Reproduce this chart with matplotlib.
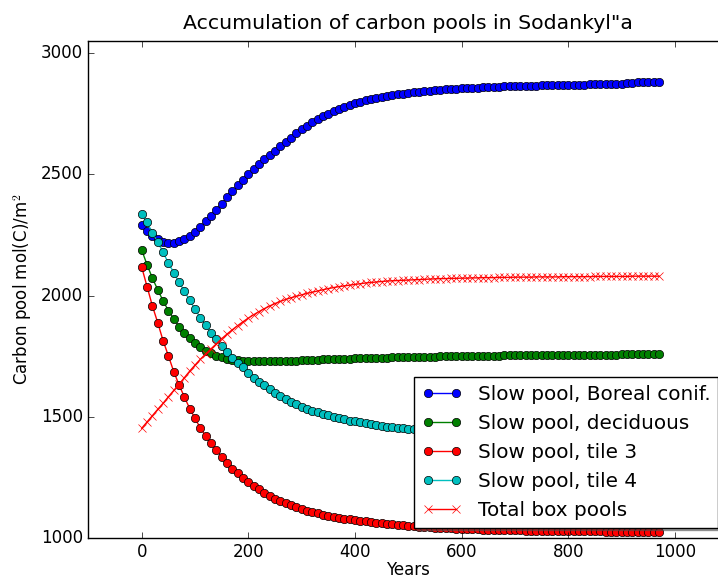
import matplotlib
matplotlib.use('Agg')
import matplotlib.pyplot as plt

plt.style.use('classic')

# years of the simulation, one point every 10 years
years = list(range(0, 980, 10))

slow_boreal = [2292, 2268, 2248, 2233, 2223, 2218, 2218, 2224, 2234, 2248,
               2264, 2284, 2306, 2330, 2355, 2380, 2405, 2430, 2455, 2478,
               2500, 2522, 2543, 2562, 2580, 2598, 2616, 2634, 2652, 2670,
               2686, 2701, 2715, 2728, 2740, 2751, 2761, 2770, 2779, 2787,
               2794, 2800, 2806, 2811, 2816, 2820, 2824, 2828, 2831, 2834,
               2837, 2839, 2841, 2843, 2845, 2847, 2849, 2851, 2853, 2855,
               2856, 2857, 2858, 2859, 2860, 2861, 2862, 2863, 2864, 2864,
               2865, 2866, 2866, 2867, 2867, 2868, 2868, 2869, 2869, 2870,
               2870, 2871, 2871, 2871, 2872, 2872, 2872, 2873, 2873, 2873,
               2874, 2879, 2879, 2880, 2880, 2880, 2881, 2881]

slow_decid = [2188, 2127, 2072, 2024, 1978, 1938, 1904, 1872, 1845, 1824,
              1803, 1787, 1773, 1762, 1752, 1745, 1739, 1735, 1732, 1730,
              1729, 1728, 1728, 1728, 1728, 1729, 1729, 1730, 1730, 1731,
              1732, 1733, 1734, 1735, 1736, 1737, 1738, 1739, 1740, 1740,
              1741, 1742, 1742, 1743, 1743, 1744, 1744, 1745, 1745, 1746,
              1746, 1747, 1747, 1748, 1748, 1748, 1749, 1749, 1750, 1750,
              1750, 1751, 1751, 1751, 1752, 1752, 1752, 1752, 1753, 1753,
              1753, 1753, 1754, 1754, 1754, 1754, 1754, 1755, 1755, 1755,
              1755, 1755, 1755, 1756, 1756, 1756, 1756, 1756, 1756, 1756,
              1757, 1757, 1757, 1757, 1757, 1757, 1757, 1757]

slow_tile3 = [2117, 2037, 1957, 1888, 1814, 1751, 1686, 1631, 1581, 1533,
              1493, 1452, 1420, 1390, 1362, 1332, 1308, 1285, 1266, 1245,
              1229, 1214, 1200, 1186, 1172, 1161, 1152, 1142, 1134, 1126,
              1118, 1112, 1106, 1100, 1095, 1090, 1086, 1082, 1079, 1076,
              1073, 1070, 1067, 1065, 1062, 1060, 1058, 1056, 1054, 1052,
              1050, 1048, 1046, 1045, 1043, 1042, 1040, 1039, 1038, 1037,
              1036, 1035, 1035, 1034, 1033, 1033, 1032, 1032, 1031, 1031,
              1030, 1030, 1029, 1029, 1029, 1028, 1028, 1028, 1027, 1027,
              1027, 1027, 1026, 1026, 1026, 1026, 1026, 1025, 1025, 1025,
              1025, 1025, 1025, 1024, 1024, 1024, 1024, 1024]

slow_tile4 = [2336, 2302, 2258, 2221, 2179, 2134, 2095, 2055, 2018, 1980,
              1944, 1908, 1878, 1846, 1820, 1790, 1766, 1743, 1723, 1703,
              1682, 1661, 1645, 1630, 1613, 1599, 1587, 1573, 1562, 1551,
              1541, 1533, 1525, 1518, 1511, 1505, 1499, 1494, 1489, 1484,
              1480, 1476, 1472, 1468, 1465, 1462, 1459, 1456, 1453, 1451,
              1449, 1447, 1445, 1443, 1441, 1440, 1438, 1437, 1436, 1435,
              1434, 1433, 1432, 1431, 1430, 1429, 1429, 1428, 1427, 1427,
              1426, 1426, 1425, 1425, 1424, 1424, 1424, 1423, 1423, 1423,
              1422, 1422, 1422, 1422, 1421, 1421, 1421, 1421, 1421, 1420,
              1420, 1420, 1420, 1420, 1419, 1419, 1419, 1419]

total_box = [1452, 1478, 1504, 1530, 1555, 1582, 1608, 1634, 1661, 1688,
             1713, 1737, 1759, 1780, 1801, 1822, 1841, 1859, 1876, 1892,
             1907, 1921, 1934, 1946, 1957, 1967, 1976, 1984, 1991, 1997,
             2003, 2009, 2014, 2019, 2024, 2029, 2033, 2037, 2040, 2043,
             2046, 2049, 2052, 2054, 2056, 2058, 2060, 2061, 2062, 2063,
             2064, 2065, 2066, 2067, 2068, 2069, 2070, 2070, 2071, 2071,
             2072, 2072, 2073, 2073, 2074, 2074, 2074, 2075, 2075, 2075,
             2076, 2076, 2076, 2076, 2077, 2077, 2077, 2077, 2077, 2078,
             2078, 2078, 2078, 2078, 2078, 2079, 2079, 2079, 2079, 2079,
             2079, 2079, 2080, 2080, 2080, 2080, 2080, 2080]

fig = plt.figure(figsize=(7.18, 5.78), dpi=100, facecolor='white')
ax = fig.add_axes([88.4 / 718, 40.3 / 578, 640 / 718, 496.4 / 578])

ax.plot(years, slow_boreal, 'bo-', label='Slow pool, Boreal conif.')
ax.plot(years, slow_decid, 'go-', label='Slow pool, deciduous')
ax.plot(years, slow_tile3, 'ro-', label='Slow pool, tile 3')
ax.plot(years, slow_tile4, 'co-', label='Slow pool, tile 4')
ax.plot(years, total_box, 'rx-', label='Total box pools')

ax.set_xlim(-100, 1100)
ax.set_ylim(1000, 3050)
ax.set_xticks([0, 200, 400, 600, 800, 1000])
ax.set_yticks([1000, 1500, 2000, 2500, 3000])
ax.set_title('Accumulation of carbon pools in Sodankyl"a', fontsize=14.7, pad=9)
ax.set_xlabel('Years', labelpad=0)
ax.set_ylabel(r'Carbon pool mol(C)/m$^2$')
ax.legend(loc='lower right', shadow=True)

fig.savefig('out.png', dpi=100, facecolor='white')
